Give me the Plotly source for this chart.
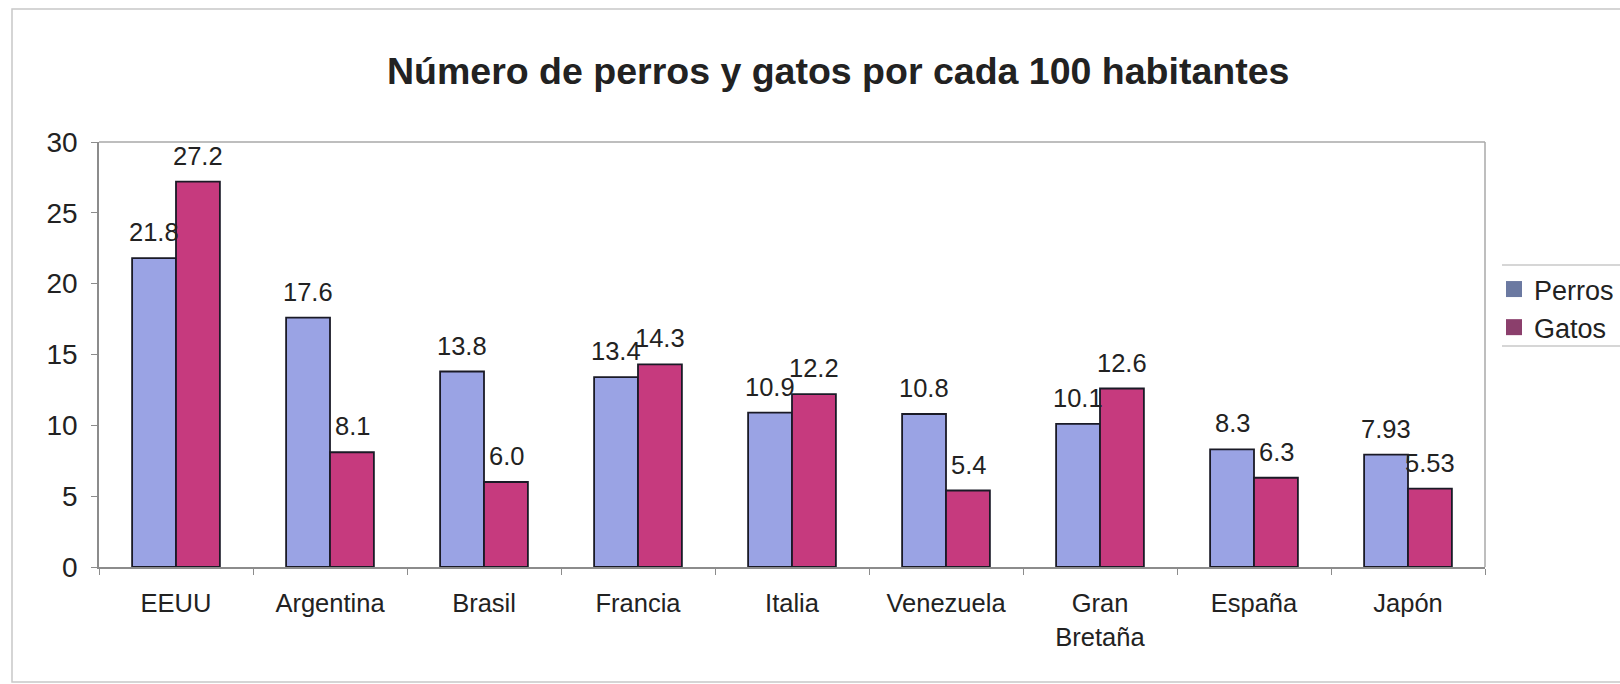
import plotly.graph_objects as go

# Datos: perros y gatos por cada 100 habitantes
paises = ["EEUU", "Argentina", "Brasil", "Francia", "Italia", "Venezuela",
          "Gran<br>Bretaña", "España", "Japón"]
perros = [21.8, 17.6, 13.8, 13.4, 10.9, 10.8, 10.1, 8.3, 7.93]
gatos = [27.2, 8.1, 6.0, 14.3, 12.2, 5.4, 12.6, 6.3, 5.53]
decimales = [1, 1, 1, 1, 1, 1, 1, 1, 2]
y_ticks = [0, 5, 10, 15, 20, 25, 30]

FONT = "Liberation Sans, Arial, sans-serif"
TXT = "#222222"
AZUL = "#9AA3E4"
ROSA = "#C63A7E"
AZUL_LEY = "#6B79A1"
ROSA_LEY = "#8B3F6C"

# Geometría de la figura (px)
W, H = 1620, 684
L, R, T, B = 99, 1485, 142, 567
PW, PH = R - L, B - T


def px_x(v):
    return (v - L) / PW


def px_y(v):
    return (B - v) / PH


fig = go.Figure()

for nombre, vals, color in [("Perros", perros, AZUL), ("Gatos", gatos, ROSA)]:
    fig.add_trace(go.Bar(
        x=paises, y=vals, name=nombre, showlegend=False,
        marker=dict(color=color, line=dict(color="#1a1a26", width=1.8)),
        hoverinfo="x+y",
    ))

# Entradas de leyenda con cuadros más grandes
for nombre, color in [("Perros", AZUL_LEY), ("Gatos", ROSA_LEY)]:
    fig.add_trace(go.Scatter(
        x=[None], y=[None], mode="markers", name=nombre,
        marker=dict(symbol="square", size=20, color=color),
    ))

# Etiquetas de valor sobre cada barra
anots = []
for vals, dx in [(perros, -22), (gatos, 22)]:
    for p, v, d in zip(paises, vals, decimales):
        anots.append(dict(
            x=p, y=v, xref="x", yref="y", text=f"{v:.{d}f}",
            showarrow=False, xshift=dx, yshift=10, yanchor="bottom",
            font=dict(family=FONT, size=25.5, color=TXT),
        ))

# Título
anots.append(dict(
    x=px_x(838), y=px_y(71), xref="paper", yref="paper",
    text="<b>Número de perros y gatos por cada 100 habitantes</b>",
    showarrow=False, xanchor="center", yanchor="middle",
    font=dict(family=FONT, size=37.5, color=TXT),
))

shapes = [
    # marco exterior del gráfico
    dict(type="rect", xref="paper", yref="paper",
         x0=px_x(12), x1=px_x(1640), y0=px_y(682), y1=px_y(9),
         line=dict(color="#C8C8C8", width=1.5), layer="below"),
    # líneas superior e inferior de la leyenda
    dict(type="line", xref="paper", yref="paper",
         x0=px_x(1502), x1=px_x(1640), y0=px_y(265), y1=px_y(265),
         line=dict(color="#C8C8C8", width=1.5)),
    dict(type="line", xref="paper", yref="paper",
         x0=px_x(1502), x1=px_x(1640), y0=px_y(346), y1=px_y(346),
         line=dict(color="#C8C8C8", width=1.5)),
    # borde superior y derecho del área de trazado
    dict(type="line", xref="paper", yref="paper", x0=0, x1=1, y0=1, y1=1,
         line=dict(color="#A8A8A8", width=1.5)),
    dict(type="line", xref="paper", yref="paper", x0=1, x1=1, y0=0, y1=1,
         line=dict(color="#A8A8A8", width=1.5)),
]

fig.update_layout(
    width=W, height=H,
    margin=dict(l=L, r=W - R, t=T, b=H - B, pad=0, autoexpand=False),
    paper_bgcolor="white", plot_bgcolor="white",
    barmode="group", bargap=0.43, bargroupgap=0,
    font=dict(family=FONT, color=TXT),
    showlegend=True,
    legend=dict(x=px_x(1494), y=px_y(265), xanchor="left", yanchor="top",
                font=dict(family=FONT, size=27, color=TXT),
                bgcolor="rgba(0,0,0,0)", borderwidth=0,
                itemsizing="trace", tracegroupgap=0),
    annotations=anots,
    shapes=shapes,
)

fig.update_xaxes(
    type="category", showgrid=False, showline=True, linecolor="#8C8C8C",
    linewidth=1.5, mirror=False, ticks="outside", tickson="boundaries",
    ticklen=6, tickcolor="#8C8C8C", ticklabelstandoff=13,
    tickfont=dict(family=FONT, size=25.5, color=TXT),
)
fig.update_yaxes(
    range=[0, 30], tickvals=y_ticks, showgrid=False, zeroline=False,
    showline=True, linecolor="#8C8C8C", linewidth=1.5,
    ticks="outside", ticklen=6, tickcolor="#8C8C8C", ticklabelstandoff=8,
    tickfont=dict(family=FONT, size=28, color=TXT),
)

fig.write_html("out.html")
